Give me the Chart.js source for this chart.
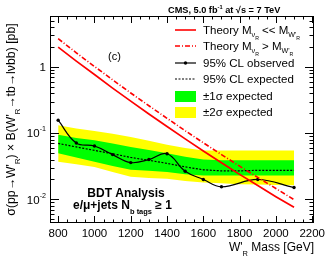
<!DOCTYPE html>
<html>
<head>
<meta charset="utf-8">
<script src="https://cdn.jsdelivr.net/npm/chart.js@4.4.0/dist/chart.umd.min.js"></script>
<style>
  body { margin: 0; background: #fff; }
  canvas { display: block; }
</style>
</head>
<body>
<canvas id="limitChart" width="332" height="258"></canvas>
<script>
// W'_R mass points (GeV)
const masses = [800, 900, 1000, 1100, 1200, 1300, 1400, 1500, 1600, 1700, 1800, 1900, 2000, 2100];

// theory cross sections [pb]
const theoryLight = [2.0, 1.23, 0.77, 0.48, 0.305, 0.195, 0.126, 0.082, 0.054, 0.0357, 0.0239, 0.0162, 0.011, 0.0076];
const theoryHeavy = [2.68, 1.64, 1.02, 0.64, 0.405, 0.26, 0.168, 0.109, 0.0717, 0.0475, 0.0318, 0.0215, 0.0146, 0.0099];

// observed limit (points as drawn with markers)
const obsMasses = [800, 900, 1000, 1100, 1200, 1300, 1400, 1500, 1600, 1700, 1900, 2100];
const observed = [0.157, 0.071, 0.064, 0.0475, 0.036, 0.040, 0.049, 0.0266, 0.020, 0.0155, 0.020, 0.0151];

// expected limit and bands
const expected = [0.070, 0.062, 0.055, 0.049, 0.043, 0.039, 0.035, 0.031, 0.028, 0.027, 0.027, 0.0275, 0.0275, 0.0275];
const plus1 = [0.095, 0.085, 0.078, 0.070, 0.062, 0.056, 0.050, 0.044, 0.040, 0.039, 0.039, 0.039, 0.039, 0.039];
const minus1 = [0.050, 0.043, 0.037, 0.032, 0.028, 0.027, 0.026, 0.024, 0.023, 0.023, 0.023, 0.023, 0.023, 0.023];
const plus2 = [0.132, 0.118, 0.108, 0.098, 0.088, 0.077, 0.067, 0.060, 0.055, 0.055, 0.055, 0.055, 0.055, 0.055];
const minus2 = [0.037, 0.034, 0.031, 0.026, 0.022, 0.021, 0.0205, 0.019, 0.018, 0.0175, 0.017, 0.0168, 0.0165, 0.0163];

// axis ticks
const xTickLabels = [800, 1000, 1200, 1400, 1600, 1800, 2000, 2200];
const yTickLabels = [[1, '1', ''], [0.1, '10', '-1'], [0.01, '10', '-2']];

const FONT = '"Liberation Sans", Arial, sans-serif';

function toXY(xs, ys) {
    return xs.map((x, i) => ({ x: x, y: ys[i] }));
}

// draw a run of text pieces: mode 0 normal, 1 subscript, 2 superscript, 3 sub-subscript
function drawRich(ctx, parts, x, y, size, weight) {
    let cx = x;
    parts.forEach(([txt, mode]) => {
        let s = size, dy = 0;
        if (mode === 1) { s = size * 0.62; dy = size * 0.38; }
        if (mode === 2) { s = size * 0.62; dy = -size * 0.42; }
        if (mode === 3) { s = size * 0.45; dy = size * 0.62; }
        ctx.font = `${weight} ${s}px ${FONT}`;
        ctx.fillText(txt, cx, y + dy);
        cx += ctx.measureText(txt).width;
    });
    return cx;
}

// ROOT style frame, ticks, labels and legend
const rootFrame = {
    id: 'rootFrame',
    afterDraw(chart) {
        const ctx = chart.ctx;
        const { left, right, top, bottom } = chart.chartArea;
        const xs = chart.scales.x, ys = chart.scales.y;
        ctx.save();
        ctx.strokeStyle = '#000';
        ctx.fillStyle = '#000';
        ctx.lineWidth = 1;
        ctx.strokeRect(left + 0.5, top + 0.5, right - left - 1, bottom - top - 1);

        // x ticks
        ctx.beginPath();
        for (let m = 800; m <= 2200; m += 50) {
            const px = Math.round(xs.getPixelForValue(m)) + 0.5;
            const len = (m % 200 === 0) ? 7 : 3.5;
            ctx.moveTo(px, bottom); ctx.lineTo(px, bottom - len);
            ctx.moveTo(px, top); ctx.lineTo(px, top + len);
        }
        // y ticks
        for (let d = 0.001; d < 10; d *= 10) {
            for (let k = 1; k <= 9; k++) {
                const v = d * k;
                if (v < ys.min || v > ys.max) continue;
                const py = Math.round(ys.getPixelForValue(v)) + 0.5;
                const len = (k === 1) ? 9 : 4.5;
                ctx.moveTo(left, py); ctx.lineTo(left + len, py);
                ctx.moveTo(right, py); ctx.lineTo(right - len, py);
            }
        }
        ctx.stroke();

        // x tick labels
        ctx.font = `11.5px ${FONT}`;
        ctx.textAlign = 'center';
        ctx.textBaseline = 'middle';
        xTickLabels.forEach(m => {
            ctx.fillText(String(m), xs.getPixelForValue(m), bottom + 11);
        });

        // y tick labels
        ctx.textAlign = 'left';
        yTickLabels.forEach(([v, base, exp]) => {
            const py = ys.getPixelForValue(v);
            ctx.font = `11.5px ${FONT}`;
            const wb = ctx.measureText(base).width;
            ctx.font = `${11.5 * 0.62}px ${FONT}`;
            const we = ctx.measureText(exp).width;
            drawRich(ctx, [[base, 0], [exp, 2]], left - 4 - wb - we, py + 1, 11.5, 'normal');
        });

        // axis titles
        ctx.textAlign = 'left';
        ctx.textBaseline = 'alphabetic';
        ctx.font = `12px ${FONT}`;
        const xParts = [["W'", 0], ['R', 1], [' Mass [GeV]', 0]];
        let wTot = 0;
        xParts.forEach(([t, m]) => { ctx.font = `${m ? 12 * 0.62 : 12}px ${FONT}`; wTot += ctx.measureText(t).width; });
        drawRich(ctx, xParts, right - wTot, 251, 12, 'normal');

        ctx.save();
        ctx.translate(15, (top + bottom) / 2);
        ctx.rotate(-Math.PI / 2);
        const yParts = [['σ(pp→W\'', 0], ['R', 1], [') × B(W\'', 0], ['R', 1], ['→tb→lνbb) [pb]', 0]];
        wTot = 0;
        yParts.forEach(([t, m]) => { ctx.font = `${m ? 12.3 * 0.62 : 12.3}px ${FONT}`; wTot += ctx.measureText(t).width; });
        drawRich(ctx, yParts, -wTot / 2, 0, 12.3, 'normal');
        ctx.restore();

        // header
        drawRich(ctx, [['CMS, 5.0 fb', 0], ['-1', 2], [' at √s = 7 TeV', 0]], 168, 13, 9.2, 'bold');

        // panel tag
        ctx.font = `11px ${FONT}`;
        ctx.fillText('(c)', 108, 60);

        // analysis text
        ctx.textAlign = 'center';
        ctx.font = `bold 12px ${FONT}`;
        ctx.fillText('BDT Analysis', 126, 197);
        ctx.textAlign = 'left';
        drawRich(ctx, [['e/μ+jets N', 0], ['b tags', 1], [' ≥ 1', 0]], 73, 209, 12, 'bold');

        // legend
        const lx0 = 175, lx1 = 196, tx = 203;
        const rows = [30, 46, 63, 79, 96, 112];
        ctx.lineWidth = 1.6;
        ctx.strokeStyle = '#ff0000';
        ctx.beginPath(); ctx.moveTo(lx0, rows[0]); ctx.lineTo(lx1, rows[0]); ctx.stroke();
        ctx.setLineDash([5, 2, 1, 2]);
        ctx.beginPath(); ctx.moveTo(lx0, rows[1]); ctx.lineTo(lx1, rows[1]); ctx.stroke();
        ctx.setLineDash([]);
        ctx.strokeStyle = '#000';
        ctx.lineWidth = 1.2;
        ctx.beginPath(); ctx.moveTo(lx0, rows[2]); ctx.lineTo(lx1, rows[2]); ctx.stroke();
        ctx.beginPath(); ctx.arc((lx0 + lx1) / 2, rows[2], 1.7, 0, Math.PI * 2); ctx.fill();
        ctx.setLineDash([2, 1.5]);
        ctx.beginPath(); ctx.moveTo(lx0, rows[3]); ctx.lineTo(lx1, rows[3]); ctx.stroke();
        ctx.setLineDash([]);
        ctx.fillStyle = '#00ff00';
        ctx.fillRect(lx0, rows[4] - 5, lx1 - lx0, 11);
        ctx.fillStyle = '#ffff00';
        ctx.fillRect(lx0, rows[5] - 5, lx1 - lx0, 11);

        ctx.fillStyle = '#000';
        ctx.textBaseline = 'middle';
        const ls = 11.5;
        drawRich(ctx, [['Theory M', 0], ['ν', 1], ['R', 3], [' << M', 0], ["W'", 1], ['R', 3]], tx, rows[0] + 1, ls, 'normal');
        drawRich(ctx, [['Theory M', 0], ['ν', 1], ['R', 3], [' > M', 0], ["W'", 1], ['R', 3]], tx, rows[1] + 1, ls, 'normal');
        drawRich(ctx, [['95% CL observed', 0]], tx, rows[2] + 1, ls, 'normal');
        drawRich(ctx, [['95% CL expected', 0]], tx, rows[3] + 1, ls, 'normal');
        drawRich(ctx, [['±1σ expected', 0]], tx, rows[4] + 1, ls, 'normal');
        drawRich(ctx, [['±2σ expected', 0]], tx, rows[5] + 1, ls, 'normal');
        ctx.restore();
    }
};

const ctx = document.getElementById('limitChart').getContext('2d');
new Chart(ctx, {
    type: 'line',
    data: {
        datasets: [
            { data: toXY(masses, plus2), borderColor: 'rgba(0,0,0,0)', borderWidth: 0, pointRadius: 0, fill: '+1', backgroundColor: '#ffff00', order: 10 },
            { data: toXY(masses, minus2), borderColor: 'rgba(0,0,0,0)', borderWidth: 0, pointRadius: 0, fill: false, order: 9 },
            { data: toXY(masses, plus1), borderColor: 'rgba(0,0,0,0)', borderWidth: 0, pointRadius: 0, fill: '+1', backgroundColor: '#00ff00', order: 8 },
            { data: toXY(masses, minus1), borderColor: 'rgba(0,0,0,0)', borderWidth: 0, pointRadius: 0, fill: false, order: 7 },
            { data: toXY(masses, expected), borderColor: '#000', borderWidth: 1.2, borderDash: [2, 1.5], pointRadius: 0, fill: false, order: 5 },
            { data: toXY(obsMasses, observed), borderColor: '#000', borderWidth: 1.2, pointRadius: 1.7, pointBackgroundColor: '#000', pointBorderWidth: 0, tension: 0.4, fill: false, order: 4 },
            { data: toXY(masses, theoryLight), borderColor: '#ff0000', borderWidth: 1.7, pointRadius: 0, fill: false, order: 3 },
            { data: toXY(masses, theoryHeavy), borderColor: '#ff0000', borderWidth: 1.6, borderDash: [5, 2, 1, 2], pointRadius: 0, fill: false, order: 2 }
        ]
    },
    options: {
        responsive: false,
        animation: false,
        layout: { padding: { left: 50, top: 16, right: 18, bottom: 35 } },
        plugins: { legend: { display: false }, tooltip: { enabled: false } },
        elements: { line: { tension: 0 } },
        scales: {
            x: { type: 'linear', min: 755, max: 2210, display: false },
            y: { type: 'logarithmic', min: 0.0044, max: 5.9, display: false }
        }
    },
    plugins: [rootFrame]
});
</script>
</body>
</html>
